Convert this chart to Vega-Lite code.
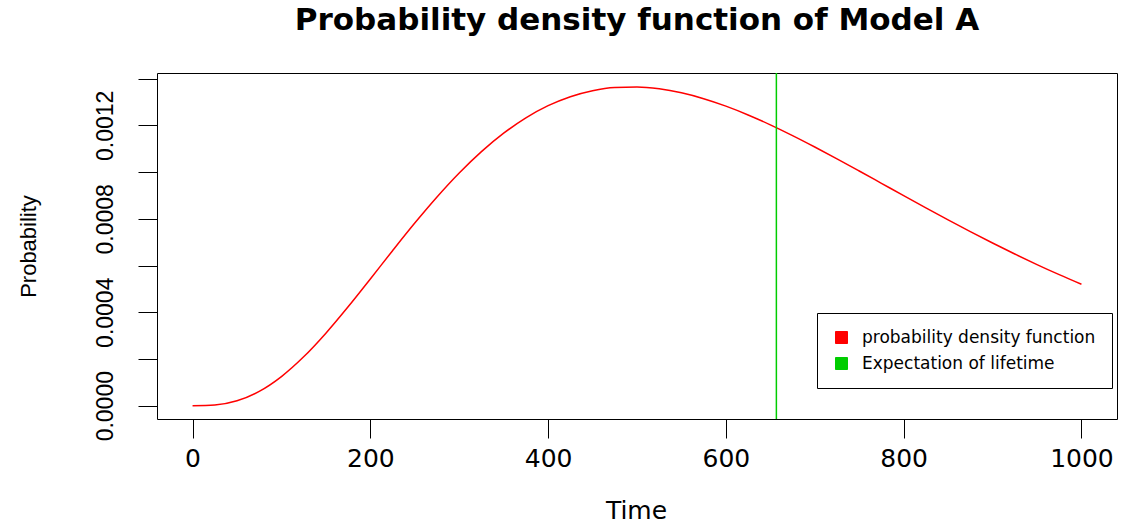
{
  "$schema": "https://vega.github.io/schema/vega-lite/v6.json",
  "width": 960,
  "height": 346,
  "autosize": {"type": "none"},
  "padding": {"left": 157, "top": 73, "right": 4, "bottom": 105},
  "background": "white",
  "title": {
    "text": "Probability density function of Model A",
    "font": "DejaVu Sans",
    "fontSize": 31,
    "fontWeight": "bold",
    "color": "black",
    "anchor": "middle",
    "frame": "group",
    "baseline": "alphabetic",
    "offset": 11
  },
  "config": {
    "view": {"stroke": "black", "strokeWidth": 1},
    "axis": {
      "grid": false,
      "domain": false,
      "tickColor": "black",
      "tickSize": 19,
      "tickWidth": 1,
      "labelColor": "black",
      "titleColor": "black",
      "labelFontWeight": "normal",
      "titleFontWeight": "normal"
    }
  },
  "datasets": {
    "curve": [
      {"time": 0, "density": 0, "series": "probability density function"},
      {"time": 25, "density": 0.00000308, "series": "probability density function"},
      {"time": 50, "density": 0.00002113, "series": "probability density function"},
      {"time": 75, "density": 0.00006125, "series": "probability density function"},
      {"time": 100, "density": 0.00012469, "series": "probability density function"},
      {"time": 125, "density": 0.00020915, "series": "probability density function"},
      {"time": 150, "density": 0.00031037, "series": "probability density function"},
      {"time": 175, "density": 0.00042325, "series": "probability density function"},
      {"time": 200, "density": 0.00054255, "series": "probability density function"},
      {"time": 225, "density": 0.00066343, "series": "probability density function"},
      {"time": 250, "density": 0.00078152, "series": "probability density function"},
      {"time": 275, "density": 0.00089328, "series": "probability density function"},
      {"time": 300, "density": 0.00099598, "series": "probability density function"},
      {"time": 325, "density": 0.00108744, "series": "probability density function"},
      {"time": 350, "density": 0.00116636, "series": "probability density function"},
      {"time": 375, "density": 0.00123206, "series": "probability density function"},
      {"time": 400, "density": 0.00128407, "series": "probability density function"},
      {"time": 425, "density": 0.00132269, "series": "probability density function"},
      {"time": 450, "density": 0.00134839, "series": "probability density function"},
      {"time": 475, "density": 0.00136188, "series": "probability density function"},
      {"time": 500, "density": 0.00136413, "series": "probability density function"},
      {"time": 525, "density": 0.00135618, "series": "probability density function"},
      {"time": 550, "density": 0.00133908, "series": "probability density function"},
      {"time": 575, "density": 0.00131401, "series": "probability density function"},
      {"time": 600, "density": 0.00128214, "series": "probability density function"},
      {"time": 625, "density": 0.00124449, "series": "probability density function"},
      {"time": 650, "density": 0.00120220, "series": "probability density function"},
      {"time": 675, "density": 0.00115624, "series": "probability density function"},
      {"time": 700, "density": 0.00110742, "series": "probability density function"},
      {"time": 725, "density": 0.00105658, "series": "probability density function"},
      {"time": 750, "density": 0.00100451, "series": "probability density function"},
      {"time": 775, "density": 0.00095186, "series": "probability density function"},
      {"time": 800, "density": 0.00089913, "series": "probability density function"},
      {"time": 825, "density": 0.00084683, "series": "probability density function"},
      {"time": 850, "density": 0.00079538, "series": "probability density function"},
      {"time": 875, "density": 0.00074516, "series": "probability density function"},
      {"time": 900, "density": 0.00069638, "series": "probability density function"},
      {"time": 925, "density": 0.00064925, "series": "probability density function"},
      {"time": 950, "density": 0.00060400, "series": "probability density function"},
      {"time": 975, "density": 0.00056075, "series": "probability density function"},
      {"time": 1000, "density": 0.00051956, "series": "probability density function"}
    ],
    "expectation": [
      {"time": 656.8, "series": "Expectation of lifetime"}
    ]
  },
  "layer": [
    {
      "data": {"name": "curve"},
      "mark": {"type": "line", "strokeWidth": 1.5, "interpolate": "monotone"},
      "encoding": {
        "x": {
          "field": "time",
          "type": "quantitative",
          "scale": {"domain": [-40, 1040], "nice": false, "zero": false},
          "axis": {
            "title": "Time",
            "values": [0, 200, 400, 600, 800, 1000],
            "format": "d",
            "labelFont": "DejaVu Sans",
            "labelFontSize": 25,
            "labelBaseline": "alphabetic",
            "labelPadding": 28,
            "labelFlush": false,
            "labelOverlap": false,
            "titleFont": "DejaVu Sans",
            "titleFontSize": 25,
            "titleBaseline": "alphabetic",
            "titleX": 479,
            "titleY": 99,
            "titleAlign": "center"
          }
        },
        "y": {
          "field": "density",
          "type": "quantitative",
          "scale": {"domain": [-0.000057, 0.001424], "nice": false, "zero": false},
          "axis": {
            "title": "Probability",
            "values": [0, 0.0002, 0.0004, 0.0006, 0.0008, 0.001, 0.0012, 0.0014],
            "labelExpr": "(round(datum.value * 10000) % 4 == 0) ? format(datum.value, '.4f') : ''",
            "labelAngle": 270,
            "labelAlign": "center",
            "labelBaseline": "alphabetic",
            "labelPadding": 26,
            "labelFont": "Liberation Sans",
            "labelFontSize": 23,
            "labelFlush": false,
            "labelOverlap": false,
            "titleFont": "Liberation Sans",
            "titleFontSize": 22,
            "titleAngle": 270,
            "titleAlign": "center",
            "titleBaseline": "alphabetic",
            "titleX": -122,
            "titleY": 173
          }
        },
        "color": {
          "field": "series",
          "type": "nominal",
          "scale": {
            "domain": ["probability density function", "Expectation of lifetime"],
            "range": ["#FF0000", "#00CD00"]
          },
          "legend": {
            "title": null,
            "orient": "none",
            "legendX": 660,
            "legendY": 240,
            "direction": "vertical",
            "strokeColor": "black",
            "fillColor": "white",
            "padding": 16,
            "symbolType": "square",
            "symbolSize": 144,
            "symbolStrokeWidth": 1,
            "symbolStrokeColor": "black",
            "labelFont": "DejaVu Sans",
            "labelFontSize": 17,
            "labelColor": "black",
            "labelOffset": 12,
            "labelLimit": 500,
            "rowPadding": 8,
            "encode": {
              "symbols": {
                "update": {
                  "fill": {"scale": "color", "field": "value"},
                  "stroke": {"value": "black"},
                  "strokeWidth": {"value": 1},
                  "opacity": {"value": 1}
                }
              }
            }
          }
        }
      }
    },
    {
      "data": {"name": "expectation"},
      "mark": {"type": "rule", "strokeWidth": 1.5},
      "encoding": {
        "x": {"field": "time", "type": "quantitative"},
        "color": {"field": "series", "type": "nominal"}
      }
    }
  ]
}
